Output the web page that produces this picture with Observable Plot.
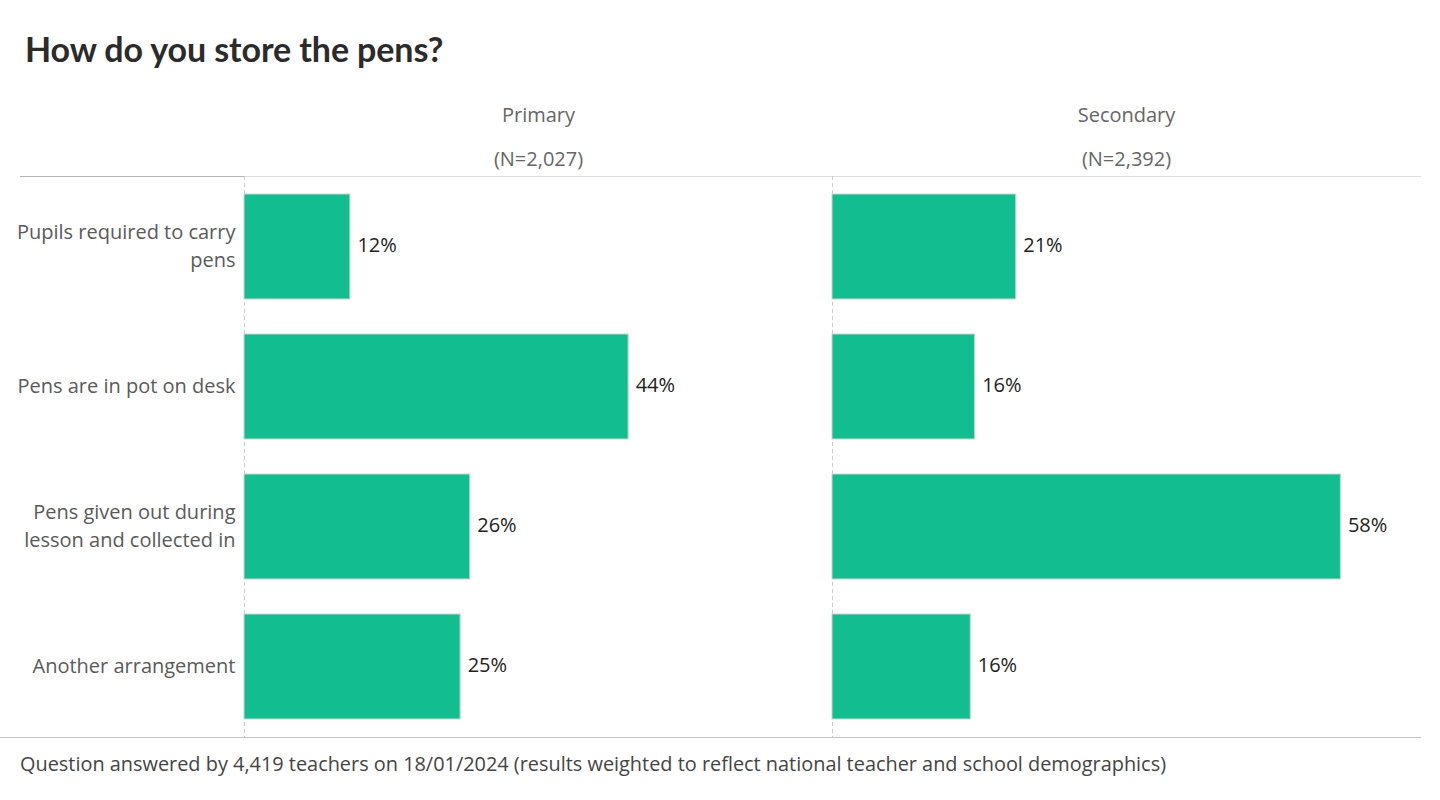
<!DOCTYPE html>
<html>
<head>
<meta charset="utf-8">
<script src="https://cdn.jsdelivr.net/npm/d3@7"></script>
<script src="https://cdn.jsdelivr.net/npm/@observablehq/plot@0.6"></script>
<style>
  html, body { margin: 0; padding: 0; background: #fff; }
  body { width: 1440px; height: 800px; position: relative; overflow: hidden; font-family: "Open Sans", Lato, sans-serif; }
  #title { position: absolute; left: 25px; top: 27px; margin: 0; font-family: Lato, sans-serif; font-size: 34px; font-weight: 700; color: #2b2b2b; letter-spacing: -0.1px; line-height: 44px; }
  #chart { position: absolute; left: 0; top: 90px; }
  #footer { position: absolute; left: 20px; top: 751px; font-size: 19.9px; color: #444; line-height: 26px; }
  .hline { position: absolute; height: 0; }
</style>
</head>
<body>
<h1 id="title">How do you store the pens?</h1>
<div class="hline" style="left:20px; width:224px; top:176px; border-top:1px solid #b5b5b5;"></div>
<div class="hline" style="left:0px; width:244px; top:737px; border-top:1px solid #c4c4c4;"></div>
<div id="chart"></div>
<div id="footer">Question answered by 4,419 teachers on 18/01/2024 (results weighted to reflect national teacher and school demographics)</div>
<script>
const categories = [
  "Pupils required to carry pens",
  "Pens are in pot on desk",
  "Pens given out during lesson and collected in",
  "Another arrangement"
];
const categoryLabels = [
  "Pupils required to carry\npens",
  "Pens are in pot on desk",
  "Pens given out during\nlesson and collected in",
  "Another arrangement"
];
const groups = ["Primary", "Secondary"];
const groupN = ["(N=2,027)", "(N=2,392)"];
const primaryValues = [12.1, 43.9, 25.8, 24.7];
const secondaryValues = [21.0, 16.3, 58.1, 15.8];

const data = [];
categories.forEach((c, i) => {
  data.push({group: groups[0], category: c, value: primaryValues[i]});
  data.push({group: groups[1], category: c, value: secondaryValues[i]});
});
const headers = groups.map((g, i) => ({group: g, n: groupN[i]}));
const labelOf = new Map(categories.map((c, i) => [c, categoryLabels[i]]));

const chart = Plot.plot({
  width: 1440,
  height: 655,
  marginTop: 86,
  marginBottom: 8,
  marginLeft: 244,
  marginRight: 20,
  style: {fontFamily: "'Open Sans', Lato, sans-serif", background: "transparent"},
  fx: {domain: groups, padding: 0, axis: null},
  x: {domain: [0, 67.2], axis: null},
  y: {domain: categories, paddingInner: 0.25, paddingOuter: 0.125, axis: null},
  marks: [
    Plot.frame({anchor: "top", stroke: "#dddddd", strokeOpacity: 1}),
    Plot.frame({anchor: "bottom", stroke: "#c4c4c4", strokeOpacity: 1}),
    Plot.ruleX([0], {stroke: "#cccccc", strokeDasharray: "4,3"}),
    Plot.barX(data, {x: "value", y: "category", fx: "group", fill: "#12bd8f", stroke: "#d2d2d2", strokeWidth: 1}),
    Plot.text(data, {x: "value", y: "category", fx: "group", text: d => Math.round(d.value) + "%", dx: 7, dy: -1, textAnchor: "start", fontSize: 20, fill: "#222"}),
    Plot.text(headers, {fx: "group", text: "group", frameAnchor: "top", dy: -61, fontSize: 20, fill: "#666", lineAnchor: "middle"}),
    Plot.text(headers, {fx: "group", text: "n", frameAnchor: "top", dy: -17, fontSize: 20, fill: "#666", lineAnchor: "middle"}),
    Plot.axisY({tickSize: 0, tickPadding: 9, dy: -3, fontSize: 20, fill: "#5a5a5a", lineHeight: 1.4, label: null, tickFormat: d => labelOf.get(d)})
  ]
});
document.getElementById("chart").appendChild(chart);
</script>
</body>
</html>
